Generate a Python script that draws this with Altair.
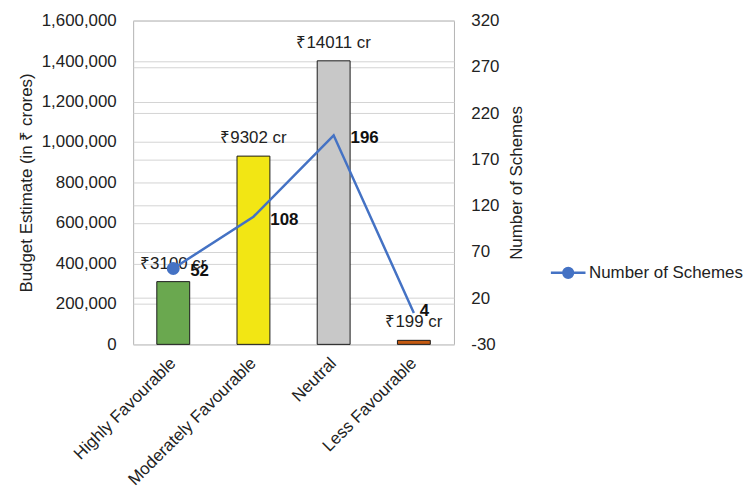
import altair as alt
import pandas as pd

categories = ["Highly Favourable", "Moderately Favourable", "Neutral", "Less Favourable"]
budget = [310000, 930200, 1401100, 19900]
budget_labels = ["₹3100 cr", "₹9302 cr", "₹14011 cr", "₹199 cr"]
schemes = [52, 108, 196, 4]
scheme_labels = ["52", "108", "196", "4"]
bar_colors = ["#6AA84F", "#F2E614", "#C8C8C8", "#C55A11"]
series_name = "Number of Schemes"
line_color = "#4472C4"
left_ticks = [0, 200000, 400000, 600000, 800000, 1000000, 1200000, 1400000, 1600000]
right_ticks = [-30, 20, 70, 120, 170, 220, 270, 320]

df = pd.DataFrame({
    "category": categories,
    "budget": budget,
    "budget_label": budget_labels,
    "schemes": schemes,
    "scheme_label": scheme_labels,
    "series": [series_name] * len(categories),
})

TXT = "#222222"
FS = 17
x_enc = alt.X(
    "category:N", sort=categories, title=None,
    scale=alt.Scale(paddingInner=0.59, paddingOuter=0.295),
    axis=alt.Axis(labelAngle=-45, labelAlign="right", labelBaseline="middle",
                  labelPadding=16, ticks=False, domain=False, labelFontSize=FS),
)

y_left = alt.Y(
    "budget:Q",
    scale=alt.Scale(domain=[0, 1600000], nice=False),
    axis=alt.Axis(title="Budget Estimate (in ₹ crores)", values=left_ticks, format=",d",
                  ticks=False, tickSize=0, domain=False, labelPadding=17, titlePadding=6,
                  grid=True, gridColor="#d4d4d4"),
)
y_right = alt.Y(
    "schemes:Q",
    scale=alt.Scale(domain=[-30, 320], nice=False, zero=False),
    axis=alt.Axis(title="Number of Schemes", orient="right", values=right_ticks,
                  labelExpr="replace(datum.label, '\u2212', '-')",
                  ticks=False, tickSize=0, domain=False, labelPadding=17, titlePadding=10,
                  titleAngle=270, titleBaseline="top", grid=True, gridColor="#d4d4d4"),
)

base = alt.Chart(df)

bars = base.mark_bar(stroke="#1a1a1a", strokeWidth=1).encode(
    x=x_enc,
    y=y_left,
    color=alt.Color("category:N", sort=categories,
                    scale=alt.Scale(domain=categories, range=bar_colors), legend=None),
)
bar_text = base.mark_text(fontSize=FS, dy=-18, color=TXT, baseline="middle").encode(
    x=x_enc, y=y_left, text="budget_label:N"
)
left = alt.layer(bars, bar_text)

line = base.mark_line(strokeWidth=2.5).encode(
    x=x_enc,
    y=y_right,
    color=alt.Color(
        "series:N",
        scale=alt.Scale(domain=[series_name], range=[line_color]),
        legend=alt.Legend(
            title=None, orient="none", legendX=425, legendY=241, padding=0,
            symbolType="M-1.5,0L1.5,0M0.42,0A0.42,0.42,0,1,1,-0.42,0A0.42,0.42,0,1,1,0.42,0Z",
            symbolSize=540, symbolStrokeWidth=2.5, symbolFillColor=line_color,
            symbolStrokeColor=line_color, symbolOpacity=1,
            labelFontSize=FS, labelColor=TXT, labelOffset=8,
        ),
    ),
)
point = base.transform_filter(alt.datum.category == categories[0]).mark_circle(
    size=170, opacity=1, color=line_color
).encode(x=x_enc, y=y_right)
line_text = base.transform_filter(alt.datum.category != categories[-1]).mark_text(
    fontSize=FS, fontWeight="bold", align="left", dx=17, dy=3, color="#111111"
).encode(x=x_enc, y=y_right, text="scheme_label:N")
last_text = base.transform_filter(alt.datum.category == categories[-1]).mark_text(
    fontSize=FS, fontWeight="bold", align="left", dx=6, dy=-2, color="#111111"
).encode(x=x_enc, y=y_right, text="scheme_label:N")
right = alt.layer(line, point, line_text, last_text)

chart = alt.layer(left, right).resolve_scale(y="independent", color="independent").properties(
    width=323, height=326, padding={"left": 9, "top": 2, "right": 0, "bottom": 5}
).configure(
    font="Liberation Sans",
).configure_axis(
    labelFontSize=FS, titleFontSize=FS, labelColor=TXT, titleColor=TXT,
    titleFontWeight="normal", labelFont="Liberation Sans", titleFont="Liberation Sans",
).configure_view(
    stroke="#b3b3b3", strokeWidth=1
)

chart.save("out.html", embed_options={"renderer": "svg", "actions": False})
